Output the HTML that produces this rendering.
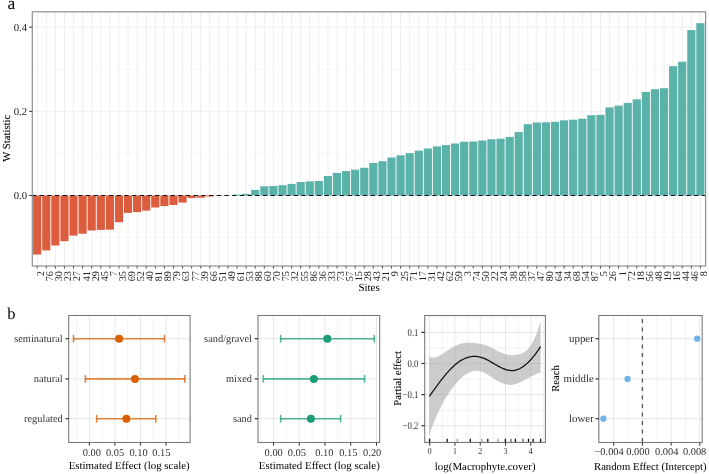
<!DOCTYPE html>
<html><head><meta charset="utf-8"><title>Figure</title>
<style>html,body{margin:0;padding:0;background:#fff;overflow:hidden}body{width:709px;height:474px;position:relative;font-family:"Liberation Serif",serif}</style></head>
<body>
<svg width="709" height="474" viewBox="0 0 709 474" style="position:absolute;left:0;top:0;font-family:'Liberation Serif',serif;will-change:transform;opacity:0.999;text-rendering:geometricPrecision">
<rect width="709" height="474" fill="#fff"/>
<text x="7.6" y="8.7" font-size="17.5" fill="#000">a</text>
<line x1="32.3" x2="705.6" y1="195.50" y2="195.50" stroke="#eeeeee" stroke-width="1.0"/>
<line x1="32.3" x2="705.6" y1="111.33" y2="111.33" stroke="#eeeeee" stroke-width="1.0"/>
<line x1="32.3" x2="705.6" y1="27.15" y2="27.15" stroke="#eeeeee" stroke-width="1.0"/>
<line x1="32.3" x2="705.6" y1="153.41" y2="153.41" stroke="#eeeeee" stroke-width="0.5"/>
<line x1="32.3" x2="705.6" y1="69.24" y2="69.24" stroke="#eeeeee" stroke-width="0.5"/>
<line x1="32.3" x2="705.6" y1="237.59" y2="237.59" stroke="#eeeeee" stroke-width="0.5"/>
<line x1="37.20" x2="37.20" y1="11.8" y2="266.0" stroke="#eeeeee" stroke-width="1"/>
<line x1="46.28" x2="46.28" y1="11.8" y2="266.0" stroke="#eeeeee" stroke-width="1"/>
<line x1="55.37" x2="55.37" y1="11.8" y2="266.0" stroke="#eeeeee" stroke-width="1"/>
<line x1="64.45" x2="64.45" y1="11.8" y2="266.0" stroke="#eeeeee" stroke-width="1"/>
<line x1="73.54" x2="73.54" y1="11.8" y2="266.0" stroke="#eeeeee" stroke-width="1"/>
<line x1="82.62" x2="82.62" y1="11.8" y2="266.0" stroke="#eeeeee" stroke-width="1"/>
<line x1="91.71" x2="91.71" y1="11.8" y2="266.0" stroke="#eeeeee" stroke-width="1"/>
<line x1="100.79" x2="100.79" y1="11.8" y2="266.0" stroke="#eeeeee" stroke-width="1"/>
<line x1="109.88" x2="109.88" y1="11.8" y2="266.0" stroke="#eeeeee" stroke-width="1"/>
<line x1="118.96" x2="118.96" y1="11.8" y2="266.0" stroke="#eeeeee" stroke-width="1"/>
<line x1="128.05" x2="128.05" y1="11.8" y2="266.0" stroke="#eeeeee" stroke-width="1"/>
<line x1="137.13" x2="137.13" y1="11.8" y2="266.0" stroke="#eeeeee" stroke-width="1"/>
<line x1="146.22" x2="146.22" y1="11.8" y2="266.0" stroke="#eeeeee" stroke-width="1"/>
<line x1="155.30" x2="155.30" y1="11.8" y2="266.0" stroke="#eeeeee" stroke-width="1"/>
<line x1="164.39" x2="164.39" y1="11.8" y2="266.0" stroke="#eeeeee" stroke-width="1"/>
<line x1="173.47" x2="173.47" y1="11.8" y2="266.0" stroke="#eeeeee" stroke-width="1"/>
<line x1="182.56" x2="182.56" y1="11.8" y2="266.0" stroke="#eeeeee" stroke-width="1"/>
<line x1="191.64" x2="191.64" y1="11.8" y2="266.0" stroke="#eeeeee" stroke-width="1"/>
<line x1="200.73" x2="200.73" y1="11.8" y2="266.0" stroke="#eeeeee" stroke-width="1"/>
<line x1="209.81" x2="209.81" y1="11.8" y2="266.0" stroke="#eeeeee" stroke-width="1"/>
<line x1="218.90" x2="218.90" y1="11.8" y2="266.0" stroke="#eeeeee" stroke-width="1"/>
<line x1="227.98" x2="227.98" y1="11.8" y2="266.0" stroke="#eeeeee" stroke-width="1"/>
<line x1="237.07" x2="237.07" y1="11.8" y2="266.0" stroke="#eeeeee" stroke-width="1"/>
<line x1="246.15" x2="246.15" y1="11.8" y2="266.0" stroke="#eeeeee" stroke-width="1"/>
<line x1="255.24" x2="255.24" y1="11.8" y2="266.0" stroke="#eeeeee" stroke-width="1"/>
<line x1="264.32" x2="264.32" y1="11.8" y2="266.0" stroke="#eeeeee" stroke-width="1"/>
<line x1="273.41" x2="273.41" y1="11.8" y2="266.0" stroke="#eeeeee" stroke-width="1"/>
<line x1="282.49" x2="282.49" y1="11.8" y2="266.0" stroke="#eeeeee" stroke-width="1"/>
<line x1="291.58" x2="291.58" y1="11.8" y2="266.0" stroke="#eeeeee" stroke-width="1"/>
<line x1="300.66" x2="300.66" y1="11.8" y2="266.0" stroke="#eeeeee" stroke-width="1"/>
<line x1="309.75" x2="309.75" y1="11.8" y2="266.0" stroke="#eeeeee" stroke-width="1"/>
<line x1="318.83" x2="318.83" y1="11.8" y2="266.0" stroke="#eeeeee" stroke-width="1"/>
<line x1="327.92" x2="327.92" y1="11.8" y2="266.0" stroke="#eeeeee" stroke-width="1"/>
<line x1="337.00" x2="337.00" y1="11.8" y2="266.0" stroke="#eeeeee" stroke-width="1"/>
<line x1="346.09" x2="346.09" y1="11.8" y2="266.0" stroke="#eeeeee" stroke-width="1"/>
<line x1="355.17" x2="355.17" y1="11.8" y2="266.0" stroke="#eeeeee" stroke-width="1"/>
<line x1="364.26" x2="364.26" y1="11.8" y2="266.0" stroke="#eeeeee" stroke-width="1"/>
<line x1="373.34" x2="373.34" y1="11.8" y2="266.0" stroke="#eeeeee" stroke-width="1"/>
<line x1="382.43" x2="382.43" y1="11.8" y2="266.0" stroke="#eeeeee" stroke-width="1"/>
<line x1="391.51" x2="391.51" y1="11.8" y2="266.0" stroke="#eeeeee" stroke-width="1"/>
<line x1="400.60" x2="400.60" y1="11.8" y2="266.0" stroke="#eeeeee" stroke-width="1"/>
<line x1="409.68" x2="409.68" y1="11.8" y2="266.0" stroke="#eeeeee" stroke-width="1"/>
<line x1="418.77" x2="418.77" y1="11.8" y2="266.0" stroke="#eeeeee" stroke-width="1"/>
<line x1="427.85" x2="427.85" y1="11.8" y2="266.0" stroke="#eeeeee" stroke-width="1"/>
<line x1="436.94" x2="436.94" y1="11.8" y2="266.0" stroke="#eeeeee" stroke-width="1"/>
<line x1="446.02" x2="446.02" y1="11.8" y2="266.0" stroke="#eeeeee" stroke-width="1"/>
<line x1="455.11" x2="455.11" y1="11.8" y2="266.0" stroke="#eeeeee" stroke-width="1"/>
<line x1="464.19" x2="464.19" y1="11.8" y2="266.0" stroke="#eeeeee" stroke-width="1"/>
<line x1="473.28" x2="473.28" y1="11.8" y2="266.0" stroke="#eeeeee" stroke-width="1"/>
<line x1="482.36" x2="482.36" y1="11.8" y2="266.0" stroke="#eeeeee" stroke-width="1"/>
<line x1="491.45" x2="491.45" y1="11.8" y2="266.0" stroke="#eeeeee" stroke-width="1"/>
<line x1="500.53" x2="500.53" y1="11.8" y2="266.0" stroke="#eeeeee" stroke-width="1"/>
<line x1="509.62" x2="509.62" y1="11.8" y2="266.0" stroke="#eeeeee" stroke-width="1"/>
<line x1="518.70" x2="518.70" y1="11.8" y2="266.0" stroke="#eeeeee" stroke-width="1"/>
<line x1="527.79" x2="527.79" y1="11.8" y2="266.0" stroke="#eeeeee" stroke-width="1"/>
<line x1="536.87" x2="536.87" y1="11.8" y2="266.0" stroke="#eeeeee" stroke-width="1"/>
<line x1="545.96" x2="545.96" y1="11.8" y2="266.0" stroke="#eeeeee" stroke-width="1"/>
<line x1="555.04" x2="555.04" y1="11.8" y2="266.0" stroke="#eeeeee" stroke-width="1"/>
<line x1="564.13" x2="564.13" y1="11.8" y2="266.0" stroke="#eeeeee" stroke-width="1"/>
<line x1="573.21" x2="573.21" y1="11.8" y2="266.0" stroke="#eeeeee" stroke-width="1"/>
<line x1="582.30" x2="582.30" y1="11.8" y2="266.0" stroke="#eeeeee" stroke-width="1"/>
<line x1="591.38" x2="591.38" y1="11.8" y2="266.0" stroke="#eeeeee" stroke-width="1"/>
<line x1="600.47" x2="600.47" y1="11.8" y2="266.0" stroke="#eeeeee" stroke-width="1"/>
<line x1="609.55" x2="609.55" y1="11.8" y2="266.0" stroke="#eeeeee" stroke-width="1"/>
<line x1="618.64" x2="618.64" y1="11.8" y2="266.0" stroke="#eeeeee" stroke-width="1"/>
<line x1="627.72" x2="627.72" y1="11.8" y2="266.0" stroke="#eeeeee" stroke-width="1"/>
<line x1="636.81" x2="636.81" y1="11.8" y2="266.0" stroke="#eeeeee" stroke-width="1"/>
<line x1="645.89" x2="645.89" y1="11.8" y2="266.0" stroke="#eeeeee" stroke-width="1"/>
<line x1="654.98" x2="654.98" y1="11.8" y2="266.0" stroke="#eeeeee" stroke-width="1"/>
<line x1="664.06" x2="664.06" y1="11.8" y2="266.0" stroke="#eeeeee" stroke-width="1"/>
<line x1="673.15" x2="673.15" y1="11.8" y2="266.0" stroke="#eeeeee" stroke-width="1"/>
<line x1="682.23" x2="682.23" y1="11.8" y2="266.0" stroke="#eeeeee" stroke-width="1"/>
<line x1="691.32" x2="691.32" y1="11.8" y2="266.0" stroke="#eeeeee" stroke-width="1"/>
<line x1="700.40" x2="700.40" y1="11.8" y2="266.0" stroke="#eeeeee" stroke-width="1"/>
<rect x="33.11" y="195.5" width="8.18" height="59.00" fill="#dc5c3e"/>
<rect x="42.20" y="195.5" width="8.18" height="54.90" fill="#dc5c3e"/>
<rect x="51.28" y="195.5" width="8.18" height="50.00" fill="#dc5c3e"/>
<rect x="60.37" y="195.5" width="8.18" height="45.70" fill="#dc5c3e"/>
<rect x="69.45" y="195.5" width="8.18" height="40.10" fill="#dc5c3e"/>
<rect x="78.54" y="195.5" width="8.18" height="38.20" fill="#dc5c3e"/>
<rect x="87.62" y="195.5" width="8.18" height="35.00" fill="#dc5c3e"/>
<rect x="96.71" y="195.5" width="8.18" height="34.40" fill="#dc5c3e"/>
<rect x="105.79" y="195.5" width="8.18" height="34.10" fill="#dc5c3e"/>
<rect x="114.88" y="195.5" width="8.18" height="26.70" fill="#dc5c3e"/>
<rect x="123.96" y="195.5" width="8.18" height="17.40" fill="#dc5c3e"/>
<rect x="133.05" y="195.5" width="8.18" height="16.60" fill="#dc5c3e"/>
<rect x="142.13" y="195.5" width="8.18" height="15.10" fill="#dc5c3e"/>
<rect x="151.22" y="195.5" width="8.18" height="12.00" fill="#dc5c3e"/>
<rect x="160.30" y="195.5" width="8.18" height="10.60" fill="#dc5c3e"/>
<rect x="169.39" y="195.5" width="8.18" height="9.50" fill="#dc5c3e"/>
<rect x="178.47" y="195.5" width="8.18" height="7.10" fill="#dc5c3e"/>
<rect x="187.56" y="195.5" width="8.18" height="2.60" fill="#dc5c3e"/>
<rect x="196.64" y="195.5" width="8.18" height="2.20" fill="#dc5c3e"/>
<rect x="205.73" y="195.5" width="8.18" height="1.00" fill="#dc5c3e"/>
<rect x="214.81" y="195.5" width="8.18" height="0.20" fill="#dc5c3e"/>
<rect x="223.90" y="195.4" width="8.18" height="0.10" fill="#5ab2a8"/>
<rect x="232.98" y="194.6" width="8.18" height="0.90" fill="#5ab2a8"/>
<rect x="242.07" y="193.9" width="8.18" height="1.60" fill="#5ab2a8"/>
<rect x="251.15" y="189.9" width="8.18" height="5.60" fill="#5ab2a8"/>
<rect x="260.24" y="186.3" width="8.18" height="9.20" fill="#5ab2a8"/>
<rect x="269.32" y="186.0" width="8.18" height="9.50" fill="#5ab2a8"/>
<rect x="278.40" y="185.2" width="8.18" height="10.30" fill="#5ab2a8"/>
<rect x="287.49" y="183.9" width="8.18" height="11.60" fill="#5ab2a8"/>
<rect x="296.57" y="182.0" width="8.18" height="13.50" fill="#5ab2a8"/>
<rect x="305.66" y="181.4" width="8.18" height="14.10" fill="#5ab2a8"/>
<rect x="314.74" y="181.0" width="8.18" height="14.50" fill="#5ab2a8"/>
<rect x="323.83" y="176.0" width="8.18" height="19.50" fill="#5ab2a8"/>
<rect x="332.91" y="172.9" width="8.18" height="22.60" fill="#5ab2a8"/>
<rect x="342.00" y="171.1" width="8.18" height="24.40" fill="#5ab2a8"/>
<rect x="351.08" y="169.65" width="8.18" height="25.85" fill="#5ab2a8"/>
<rect x="360.17" y="167.8" width="8.18" height="27.70" fill="#5ab2a8"/>
<rect x="369.25" y="162.9" width="8.18" height="32.60" fill="#5ab2a8"/>
<rect x="378.34" y="161.2" width="8.18" height="34.30" fill="#5ab2a8"/>
<rect x="387.42" y="157.5" width="8.18" height="38.00" fill="#5ab2a8"/>
<rect x="396.51" y="155.3" width="8.18" height="40.20" fill="#5ab2a8"/>
<rect x="405.59" y="153.1" width="8.18" height="42.40" fill="#5ab2a8"/>
<rect x="414.68" y="150.6" width="8.18" height="44.90" fill="#5ab2a8"/>
<rect x="423.76" y="148.5" width="8.18" height="47.00" fill="#5ab2a8"/>
<rect x="432.85" y="146.4" width="8.18" height="49.10" fill="#5ab2a8"/>
<rect x="441.93" y="145.1" width="8.18" height="50.40" fill="#5ab2a8"/>
<rect x="451.02" y="143.5" width="8.18" height="52.00" fill="#5ab2a8"/>
<rect x="460.10" y="141.8" width="8.18" height="53.70" fill="#5ab2a8"/>
<rect x="469.19" y="141.5" width="8.18" height="54.00" fill="#5ab2a8"/>
<rect x="478.27" y="140.5" width="8.18" height="55.00" fill="#5ab2a8"/>
<rect x="487.36" y="139.2" width="8.18" height="56.30" fill="#5ab2a8"/>
<rect x="496.44" y="138.7" width="8.18" height="56.80" fill="#5ab2a8"/>
<rect x="505.53" y="136.9" width="8.18" height="58.60" fill="#5ab2a8"/>
<rect x="514.61" y="132.1" width="8.18" height="63.40" fill="#5ab2a8"/>
<rect x="523.70" y="124.2" width="8.18" height="71.30" fill="#5ab2a8"/>
<rect x="532.78" y="122.5" width="8.18" height="73.00" fill="#5ab2a8"/>
<rect x="541.87" y="122.3" width="8.18" height="73.20" fill="#5ab2a8"/>
<rect x="550.95" y="121.8" width="8.18" height="73.70" fill="#5ab2a8"/>
<rect x="560.04" y="120.3" width="8.18" height="75.20" fill="#5ab2a8"/>
<rect x="569.12" y="119.7" width="8.18" height="75.80" fill="#5ab2a8"/>
<rect x="578.21" y="118.7" width="8.18" height="76.80" fill="#5ab2a8"/>
<rect x="587.29" y="115.2" width="8.18" height="80.30" fill="#5ab2a8"/>
<rect x="596.38" y="114.9" width="8.18" height="80.60" fill="#5ab2a8"/>
<rect x="605.46" y="107.4" width="8.18" height="88.10" fill="#5ab2a8"/>
<rect x="614.55" y="105.6" width="8.18" height="89.90" fill="#5ab2a8"/>
<rect x="623.63" y="102.9" width="8.18" height="92.60" fill="#5ab2a8"/>
<rect x="632.72" y="99.3" width="8.18" height="96.20" fill="#5ab2a8"/>
<rect x="641.80" y="91.9" width="8.18" height="103.60" fill="#5ab2a8"/>
<rect x="650.89" y="89.2" width="8.18" height="106.30" fill="#5ab2a8"/>
<rect x="659.97" y="88.2" width="8.18" height="107.30" fill="#5ab2a8"/>
<rect x="669.06" y="66.2" width="8.18" height="129.30" fill="#5ab2a8"/>
<rect x="678.14" y="61.7" width="8.18" height="133.80" fill="#5ab2a8"/>
<rect x="687.23" y="30.1" width="8.18" height="165.40" fill="#5ab2a8"/>
<rect x="696.31" y="23.2" width="8.18" height="172.30" fill="#5ab2a8"/>
<line x1="32.3" x2="705.6" y1="195.5" y2="195.5" stroke="#111" stroke-width="1.2" stroke-dasharray="4.3 3.4" stroke-dashoffset="0.4"/>
<rect x="32.3" y="11.8" width="673.3000000000001" height="254.2" fill="none" stroke="#8f8f8f" stroke-width="1.2"/>
<line x1="29.099999999999998" x2="32.3" y1="195.50" y2="195.50" stroke="#333" stroke-width="1"/>
<text x="26.999999999999996" y="199.30" font-size="10.7" text-anchor="end" fill="#222">0.0</text>
<line x1="29.099999999999998" x2="32.3" y1="111.33" y2="111.33" stroke="#333" stroke-width="1"/>
<text x="26.999999999999996" y="115.12" font-size="10.7" text-anchor="end" fill="#222">0.2</text>
<line x1="29.099999999999998" x2="32.3" y1="27.15" y2="27.15" stroke="#333" stroke-width="1"/>
<text x="26.999999999999996" y="30.95" font-size="10.7" text-anchor="end" fill="#222">0.4</text>
<line x1="37.20" x2="37.20" y1="266.0" y2="268.6" stroke="#555" stroke-width="1"/>
<text transform="translate(44.10,271.0) rotate(-90)" font-size="10.3" text-anchor="end" fill="#222">2</text>
<line x1="46.28" x2="46.28" y1="266.0" y2="268.6" stroke="#555" stroke-width="1"/>
<text transform="translate(53.18,271.0) rotate(-90)" font-size="10.3" text-anchor="end" fill="#222">76</text>
<line x1="55.37" x2="55.37" y1="266.0" y2="268.6" stroke="#555" stroke-width="1"/>
<text transform="translate(62.27,271.0) rotate(-90)" font-size="10.3" text-anchor="end" fill="#222">30</text>
<line x1="64.45" x2="64.45" y1="266.0" y2="268.6" stroke="#555" stroke-width="1"/>
<text transform="translate(71.35,271.0) rotate(-90)" font-size="10.3" text-anchor="end" fill="#222">23</text>
<line x1="73.54" x2="73.54" y1="266.0" y2="268.6" stroke="#555" stroke-width="1"/>
<text transform="translate(80.44,271.0) rotate(-90)" font-size="10.3" text-anchor="end" fill="#222">27</text>
<line x1="82.62" x2="82.62" y1="266.0" y2="268.6" stroke="#555" stroke-width="1"/>
<text transform="translate(89.52,271.0) rotate(-90)" font-size="10.3" text-anchor="end" fill="#222">41</text>
<line x1="91.71" x2="91.71" y1="266.0" y2="268.6" stroke="#555" stroke-width="1"/>
<text transform="translate(98.61,271.0) rotate(-90)" font-size="10.3" text-anchor="end" fill="#222">29</text>
<line x1="100.79" x2="100.79" y1="266.0" y2="268.6" stroke="#555" stroke-width="1"/>
<text transform="translate(107.69,271.0) rotate(-90)" font-size="10.3" text-anchor="end" fill="#222">45</text>
<line x1="109.88" x2="109.88" y1="266.0" y2="268.6" stroke="#555" stroke-width="1"/>
<text transform="translate(116.78,271.0) rotate(-90)" font-size="10.3" text-anchor="end" fill="#222">7</text>
<line x1="118.96" x2="118.96" y1="266.0" y2="268.6" stroke="#555" stroke-width="1"/>
<text transform="translate(125.86,271.0) rotate(-90)" font-size="10.3" text-anchor="end" fill="#222">35</text>
<line x1="128.05" x2="128.05" y1="266.0" y2="268.6" stroke="#555" stroke-width="1"/>
<text transform="translate(134.95,271.0) rotate(-90)" font-size="10.3" text-anchor="end" fill="#222">69</text>
<line x1="137.13" x2="137.13" y1="266.0" y2="268.6" stroke="#555" stroke-width="1"/>
<text transform="translate(144.03,271.0) rotate(-90)" font-size="10.3" text-anchor="end" fill="#222">52</text>
<line x1="146.22" x2="146.22" y1="266.0" y2="268.6" stroke="#555" stroke-width="1"/>
<text transform="translate(153.12,271.0) rotate(-90)" font-size="10.3" text-anchor="end" fill="#222">40</text>
<line x1="155.30" x2="155.30" y1="266.0" y2="268.6" stroke="#555" stroke-width="1"/>
<text transform="translate(162.20,271.0) rotate(-90)" font-size="10.3" text-anchor="end" fill="#222">81</text>
<line x1="164.39" x2="164.39" y1="266.0" y2="268.6" stroke="#555" stroke-width="1"/>
<text transform="translate(171.29,271.0) rotate(-90)" font-size="10.3" text-anchor="end" fill="#222">89</text>
<line x1="173.47" x2="173.47" y1="266.0" y2="268.6" stroke="#555" stroke-width="1"/>
<text transform="translate(180.37,271.0) rotate(-90)" font-size="10.3" text-anchor="end" fill="#222">79</text>
<line x1="182.56" x2="182.56" y1="266.0" y2="268.6" stroke="#555" stroke-width="1"/>
<text transform="translate(189.46,271.0) rotate(-90)" font-size="10.3" text-anchor="end" fill="#222">63</text>
<line x1="191.64" x2="191.64" y1="266.0" y2="268.6" stroke="#555" stroke-width="1"/>
<text transform="translate(198.54,271.0) rotate(-90)" font-size="10.3" text-anchor="end" fill="#222">77</text>
<line x1="200.73" x2="200.73" y1="266.0" y2="268.6" stroke="#555" stroke-width="1"/>
<text transform="translate(207.63,271.0) rotate(-90)" font-size="10.3" text-anchor="end" fill="#222">39</text>
<line x1="209.81" x2="209.81" y1="266.0" y2="268.6" stroke="#555" stroke-width="1"/>
<text transform="translate(216.71,271.0) rotate(-90)" font-size="10.3" text-anchor="end" fill="#222">66</text>
<line x1="218.90" x2="218.90" y1="266.0" y2="268.6" stroke="#555" stroke-width="1"/>
<text transform="translate(225.80,271.0) rotate(-90)" font-size="10.3" text-anchor="end" fill="#222">51</text>
<line x1="227.98" x2="227.98" y1="266.0" y2="268.6" stroke="#555" stroke-width="1"/>
<text transform="translate(234.88,271.0) rotate(-90)" font-size="10.3" text-anchor="end" fill="#222">49</text>
<line x1="237.07" x2="237.07" y1="266.0" y2="268.6" stroke="#555" stroke-width="1"/>
<text transform="translate(243.97,271.0) rotate(-90)" font-size="10.3" text-anchor="end" fill="#222">61</text>
<line x1="246.15" x2="246.15" y1="266.0" y2="268.6" stroke="#555" stroke-width="1"/>
<text transform="translate(253.05,271.0) rotate(-90)" font-size="10.3" text-anchor="end" fill="#222">53</text>
<line x1="255.24" x2="255.24" y1="266.0" y2="268.6" stroke="#555" stroke-width="1"/>
<text transform="translate(262.14,271.0) rotate(-90)" font-size="10.3" text-anchor="end" fill="#222">88</text>
<line x1="264.32" x2="264.32" y1="266.0" y2="268.6" stroke="#555" stroke-width="1"/>
<text transform="translate(271.22,271.0) rotate(-90)" font-size="10.3" text-anchor="end" fill="#222">60</text>
<line x1="273.41" x2="273.41" y1="266.0" y2="268.6" stroke="#555" stroke-width="1"/>
<text transform="translate(280.31,271.0) rotate(-90)" font-size="10.3" text-anchor="end" fill="#222">70</text>
<line x1="282.49" x2="282.49" y1="266.0" y2="268.6" stroke="#555" stroke-width="1"/>
<text transform="translate(289.39,271.0) rotate(-90)" font-size="10.3" text-anchor="end" fill="#222">75</text>
<line x1="291.58" x2="291.58" y1="266.0" y2="268.6" stroke="#555" stroke-width="1"/>
<text transform="translate(298.48,271.0) rotate(-90)" font-size="10.3" text-anchor="end" fill="#222">32</text>
<line x1="300.66" x2="300.66" y1="266.0" y2="268.6" stroke="#555" stroke-width="1"/>
<text transform="translate(307.56,271.0) rotate(-90)" font-size="10.3" text-anchor="end" fill="#222">55</text>
<line x1="309.75" x2="309.75" y1="266.0" y2="268.6" stroke="#555" stroke-width="1"/>
<text transform="translate(316.65,271.0) rotate(-90)" font-size="10.3" text-anchor="end" fill="#222">86</text>
<line x1="318.83" x2="318.83" y1="266.0" y2="268.6" stroke="#555" stroke-width="1"/>
<text transform="translate(325.73,271.0) rotate(-90)" font-size="10.3" text-anchor="end" fill="#222">36</text>
<line x1="327.92" x2="327.92" y1="266.0" y2="268.6" stroke="#555" stroke-width="1"/>
<text transform="translate(334.82,271.0) rotate(-90)" font-size="10.3" text-anchor="end" fill="#222">33</text>
<line x1="337.00" x2="337.00" y1="266.0" y2="268.6" stroke="#555" stroke-width="1"/>
<text transform="translate(343.90,271.0) rotate(-90)" font-size="10.3" text-anchor="end" fill="#222">73</text>
<line x1="346.09" x2="346.09" y1="266.0" y2="268.6" stroke="#555" stroke-width="1"/>
<text transform="translate(352.99,271.0) rotate(-90)" font-size="10.3" text-anchor="end" fill="#222">57</text>
<line x1="355.17" x2="355.17" y1="266.0" y2="268.6" stroke="#555" stroke-width="1"/>
<text transform="translate(362.07,271.0) rotate(-90)" font-size="10.3" text-anchor="end" fill="#222">15</text>
<line x1="364.26" x2="364.26" y1="266.0" y2="268.6" stroke="#555" stroke-width="1"/>
<text transform="translate(371.16,271.0) rotate(-90)" font-size="10.3" text-anchor="end" fill="#222">28</text>
<line x1="373.34" x2="373.34" y1="266.0" y2="268.6" stroke="#555" stroke-width="1"/>
<text transform="translate(380.24,271.0) rotate(-90)" font-size="10.3" text-anchor="end" fill="#222">43</text>
<line x1="382.43" x2="382.43" y1="266.0" y2="268.6" stroke="#555" stroke-width="1"/>
<text transform="translate(389.33,271.0) rotate(-90)" font-size="10.3" text-anchor="end" fill="#222">21</text>
<line x1="391.51" x2="391.51" y1="266.0" y2="268.6" stroke="#555" stroke-width="1"/>
<text transform="translate(398.41,271.0) rotate(-90)" font-size="10.3" text-anchor="end" fill="#222">9</text>
<line x1="400.60" x2="400.60" y1="266.0" y2="268.6" stroke="#555" stroke-width="1"/>
<text transform="translate(407.50,271.0) rotate(-90)" font-size="10.3" text-anchor="end" fill="#222">25</text>
<line x1="409.68" x2="409.68" y1="266.0" y2="268.6" stroke="#555" stroke-width="1"/>
<text transform="translate(416.58,271.0) rotate(-90)" font-size="10.3" text-anchor="end" fill="#222">71</text>
<line x1="418.77" x2="418.77" y1="266.0" y2="268.6" stroke="#555" stroke-width="1"/>
<text transform="translate(425.67,271.0) rotate(-90)" font-size="10.3" text-anchor="end" fill="#222">17</text>
<line x1="427.85" x2="427.85" y1="266.0" y2="268.6" stroke="#555" stroke-width="1"/>
<text transform="translate(434.75,271.0) rotate(-90)" font-size="10.3" text-anchor="end" fill="#222">31</text>
<line x1="436.94" x2="436.94" y1="266.0" y2="268.6" stroke="#555" stroke-width="1"/>
<text transform="translate(443.84,271.0) rotate(-90)" font-size="10.3" text-anchor="end" fill="#222">42</text>
<line x1="446.02" x2="446.02" y1="266.0" y2="268.6" stroke="#555" stroke-width="1"/>
<text transform="translate(452.92,271.0) rotate(-90)" font-size="10.3" text-anchor="end" fill="#222">62</text>
<line x1="455.11" x2="455.11" y1="266.0" y2="268.6" stroke="#555" stroke-width="1"/>
<text transform="translate(462.01,271.0) rotate(-90)" font-size="10.3" text-anchor="end" fill="#222">59</text>
<line x1="464.19" x2="464.19" y1="266.0" y2="268.6" stroke="#555" stroke-width="1"/>
<text transform="translate(471.09,271.0) rotate(-90)" font-size="10.3" text-anchor="end" fill="#222">3</text>
<line x1="473.28" x2="473.28" y1="266.0" y2="268.6" stroke="#555" stroke-width="1"/>
<text transform="translate(480.18,271.0) rotate(-90)" font-size="10.3" text-anchor="end" fill="#222">74</text>
<line x1="482.36" x2="482.36" y1="266.0" y2="268.6" stroke="#555" stroke-width="1"/>
<text transform="translate(489.26,271.0) rotate(-90)" font-size="10.3" text-anchor="end" fill="#222">50</text>
<line x1="491.45" x2="491.45" y1="266.0" y2="268.6" stroke="#555" stroke-width="1"/>
<text transform="translate(498.35,271.0) rotate(-90)" font-size="10.3" text-anchor="end" fill="#222">22</text>
<line x1="500.53" x2="500.53" y1="266.0" y2="268.6" stroke="#555" stroke-width="1"/>
<text transform="translate(507.43,271.0) rotate(-90)" font-size="10.3" text-anchor="end" fill="#222">24</text>
<line x1="509.62" x2="509.62" y1="266.0" y2="268.6" stroke="#555" stroke-width="1"/>
<text transform="translate(516.52,271.0) rotate(-90)" font-size="10.3" text-anchor="end" fill="#222">38</text>
<line x1="518.70" x2="518.70" y1="266.0" y2="268.6" stroke="#555" stroke-width="1"/>
<text transform="translate(525.60,271.0) rotate(-90)" font-size="10.3" text-anchor="end" fill="#222">58</text>
<line x1="527.79" x2="527.79" y1="266.0" y2="268.6" stroke="#555" stroke-width="1"/>
<text transform="translate(534.69,271.0) rotate(-90)" font-size="10.3" text-anchor="end" fill="#222">37</text>
<line x1="536.87" x2="536.87" y1="266.0" y2="268.6" stroke="#555" stroke-width="1"/>
<text transform="translate(543.77,271.0) rotate(-90)" font-size="10.3" text-anchor="end" fill="#222">47</text>
<line x1="545.96" x2="545.96" y1="266.0" y2="268.6" stroke="#555" stroke-width="1"/>
<text transform="translate(552.86,271.0) rotate(-90)" font-size="10.3" text-anchor="end" fill="#222">80</text>
<line x1="555.04" x2="555.04" y1="266.0" y2="268.6" stroke="#555" stroke-width="1"/>
<text transform="translate(561.94,271.0) rotate(-90)" font-size="10.3" text-anchor="end" fill="#222">64</text>
<line x1="564.13" x2="564.13" y1="266.0" y2="268.6" stroke="#555" stroke-width="1"/>
<text transform="translate(571.03,271.0) rotate(-90)" font-size="10.3" text-anchor="end" fill="#222">34</text>
<line x1="573.21" x2="573.21" y1="266.0" y2="268.6" stroke="#555" stroke-width="1"/>
<text transform="translate(580.11,271.0) rotate(-90)" font-size="10.3" text-anchor="end" fill="#222">68</text>
<line x1="582.30" x2="582.30" y1="266.0" y2="268.6" stroke="#555" stroke-width="1"/>
<text transform="translate(589.20,271.0) rotate(-90)" font-size="10.3" text-anchor="end" fill="#222">54</text>
<line x1="591.38" x2="591.38" y1="266.0" y2="268.6" stroke="#555" stroke-width="1"/>
<text transform="translate(598.28,271.0) rotate(-90)" font-size="10.3" text-anchor="end" fill="#222">87</text>
<line x1="600.47" x2="600.47" y1="266.0" y2="268.6" stroke="#555" stroke-width="1"/>
<text transform="translate(607.37,271.0) rotate(-90)" font-size="10.3" text-anchor="end" fill="#222">5</text>
<line x1="609.55" x2="609.55" y1="266.0" y2="268.6" stroke="#555" stroke-width="1"/>
<text transform="translate(616.45,271.0) rotate(-90)" font-size="10.3" text-anchor="end" fill="#222">26</text>
<line x1="618.64" x2="618.64" y1="266.0" y2="268.6" stroke="#555" stroke-width="1"/>
<text transform="translate(625.54,271.0) rotate(-90)" font-size="10.3" text-anchor="end" fill="#222">1</text>
<line x1="627.72" x2="627.72" y1="266.0" y2="268.6" stroke="#555" stroke-width="1"/>
<text transform="translate(634.62,271.0) rotate(-90)" font-size="10.3" text-anchor="end" fill="#222">72</text>
<line x1="636.81" x2="636.81" y1="266.0" y2="268.6" stroke="#555" stroke-width="1"/>
<text transform="translate(643.71,271.0) rotate(-90)" font-size="10.3" text-anchor="end" fill="#222">18</text>
<line x1="645.89" x2="645.89" y1="266.0" y2="268.6" stroke="#555" stroke-width="1"/>
<text transform="translate(652.79,271.0) rotate(-90)" font-size="10.3" text-anchor="end" fill="#222">56</text>
<line x1="654.98" x2="654.98" y1="266.0" y2="268.6" stroke="#555" stroke-width="1"/>
<text transform="translate(661.88,271.0) rotate(-90)" font-size="10.3" text-anchor="end" fill="#222">48</text>
<line x1="664.06" x2="664.06" y1="266.0" y2="268.6" stroke="#555" stroke-width="1"/>
<text transform="translate(670.96,271.0) rotate(-90)" font-size="10.3" text-anchor="end" fill="#222">19</text>
<line x1="673.15" x2="673.15" y1="266.0" y2="268.6" stroke="#555" stroke-width="1"/>
<text transform="translate(680.05,271.0) rotate(-90)" font-size="10.3" text-anchor="end" fill="#222">16</text>
<line x1="682.23" x2="682.23" y1="266.0" y2="268.6" stroke="#555" stroke-width="1"/>
<text transform="translate(689.13,271.0) rotate(-90)" font-size="10.3" text-anchor="end" fill="#222">44</text>
<line x1="691.32" x2="691.32" y1="266.0" y2="268.6" stroke="#555" stroke-width="1"/>
<text transform="translate(698.22,271.0) rotate(-90)" font-size="10.3" text-anchor="end" fill="#222">46</text>
<line x1="700.40" x2="700.40" y1="266.0" y2="268.6" stroke="#555" stroke-width="1"/>
<text transform="translate(707.30,271.0) rotate(-90)" font-size="10.3" text-anchor="end" fill="#222">8</text>
<text transform="translate(9.6,138.2) rotate(-90)" font-size="10.7" text-anchor="middle" fill="#000" stroke="#000" stroke-width="0.08">W Statistic</text>
<text x="369.1" y="290.8" font-size="11" text-anchor="middle" fill="#000">Sites</text>
<text x="7.3" y="319.0" font-size="16.5" fill="#000">b</text>
<line x1="68.7" x2="190.1" y1="338.70" y2="338.70" stroke="#e7e7e7" stroke-width="1.0"/>
<line x1="68.7" x2="190.1" y1="378.90" y2="378.90" stroke="#e7e7e7" stroke-width="1.0"/>
<line x1="68.7" x2="190.1" y1="418.70" y2="418.70" stroke="#e7e7e7" stroke-width="1.0"/>
<line x1="89.50" x2="89.50" y1="315.5" y2="442.5" stroke="#e7e7e7" stroke-width="1.0"/>
<line x1="115.00" x2="115.00" y1="315.5" y2="442.5" stroke="#e7e7e7" stroke-width="1.0"/>
<line x1="140.50" x2="140.50" y1="315.5" y2="442.5" stroke="#e7e7e7" stroke-width="1.0"/>
<line x1="166.00" x2="166.00" y1="315.5" y2="442.5" stroke="#e7e7e7" stroke-width="1.0"/>
<line x1="76.75" x2="76.75" y1="315.5" y2="442.5" stroke="#e7e7e7" stroke-width="0.5"/>
<line x1="102.25" x2="102.25" y1="315.5" y2="442.5" stroke="#e7e7e7" stroke-width="0.5"/>
<line x1="127.75" x2="127.75" y1="315.5" y2="442.5" stroke="#e7e7e7" stroke-width="0.5"/>
<line x1="153.25" x2="153.25" y1="315.5" y2="442.5" stroke="#e7e7e7" stroke-width="0.5"/>
<line x1="178.75" x2="178.75" y1="315.5" y2="442.5" stroke="#e7e7e7" stroke-width="0.5"/>
<line x1="73.50" x2="164.50" y1="338.7" y2="338.7" stroke="#d95f02" stroke-width="1.6" opacity="0.75"/>
<line x1="73.50" x2="73.50" y1="334.9" y2="342.5" stroke="#d95f02" stroke-width="1.6" opacity="0.75"/>
<line x1="164.50" x2="164.50" y1="334.9" y2="342.5" stroke="#d95f02" stroke-width="1.6" opacity="0.75"/>
<circle cx="119.10" cy="338.7" r="4.0" fill="#d95f02"/>
<line x1="85.40" x2="184.90" y1="378.9" y2="378.9" stroke="#d95f02" stroke-width="1.6" opacity="0.75"/>
<line x1="85.40" x2="85.40" y1="375.09999999999997" y2="382.7" stroke="#d95f02" stroke-width="1.6" opacity="0.75"/>
<line x1="184.90" x2="184.90" y1="375.09999999999997" y2="382.7" stroke="#d95f02" stroke-width="1.6" opacity="0.75"/>
<circle cx="134.95" cy="378.9" r="4.0" fill="#d95f02"/>
<line x1="96.70" x2="155.80" y1="418.7" y2="418.7" stroke="#d95f02" stroke-width="1.6" opacity="0.75"/>
<line x1="96.70" x2="96.70" y1="414.9" y2="422.5" stroke="#d95f02" stroke-width="1.6" opacity="0.75"/>
<line x1="155.80" x2="155.80" y1="414.9" y2="422.5" stroke="#d95f02" stroke-width="1.6" opacity="0.75"/>
<circle cx="126.40" cy="418.7" r="4.0" fill="#d95f02"/>
<rect x="68.7" y="315.5" width="121.40" height="127.00" fill="none" stroke="#777777" stroke-width="1.05"/>
<line x1="65.4" x2="68.7" y1="338.70" y2="338.70" stroke="#333" stroke-width="1.2"/>
<text transform="translate(62.70,342.00) scale(1.0,1)" font-size="10.4" text-anchor="end" fill="#333333">seminatural</text>
<line x1="65.4" x2="68.7" y1="378.90" y2="378.90" stroke="#333" stroke-width="1.2"/>
<text transform="translate(62.70,382.20) scale(1.0,1)" font-size="10.4" text-anchor="end" fill="#333333">natural</text>
<line x1="65.4" x2="68.7" y1="418.70" y2="418.70" stroke="#333" stroke-width="1.2"/>
<text transform="translate(62.70,422.00) scale(1.0,1)" font-size="10.4" text-anchor="end" fill="#333333">regulated</text>
<line x1="89.40" x2="89.40" y1="442.5" y2="445.7" stroke="#333" stroke-width="1"/>
<line x1="114.90" x2="114.90" y1="442.5" y2="445.7" stroke="#333" stroke-width="1"/>
<line x1="140.40" x2="140.40" y1="442.5" y2="445.7" stroke="#333" stroke-width="1"/>
<line x1="166.00" x2="166.00" y1="442.5" y2="445.7" stroke="#333" stroke-width="1"/>
<text transform="translate(91.90,455.7) scale(1.0,1)" font-size="10.4" text-anchor="middle" fill="#333333">0.00</text>
<text transform="translate(115.00,455.7) scale(1.0,1)" font-size="10.4" text-anchor="middle" fill="#333333">0.05</text>
<text transform="translate(138.50,455.7) scale(1.0,1)" font-size="10.4" text-anchor="middle" fill="#333333">0.10</text>
<text transform="translate(161.40,455.7) scale(1.0,1)" font-size="10.4" text-anchor="middle" fill="#333333">0.15</text>
<text x="129.2" y="468.6" font-size="10.9" text-anchor="middle" fill="#000">Estimated Effect (log scale)</text>
<line x1="258.0" x2="379.7" y1="338.70" y2="338.70" stroke="#e7e7e7" stroke-width="1.0"/>
<line x1="258.0" x2="379.7" y1="378.90" y2="378.90" stroke="#e7e7e7" stroke-width="1.0"/>
<line x1="258.0" x2="379.7" y1="418.70" y2="418.70" stroke="#e7e7e7" stroke-width="1.0"/>
<line x1="273.50" x2="273.50" y1="315.5" y2="442.5" stroke="#e7e7e7" stroke-width="1.0"/>
<line x1="299.25" x2="299.25" y1="315.5" y2="442.5" stroke="#e7e7e7" stroke-width="1.0"/>
<line x1="325.00" x2="325.00" y1="315.5" y2="442.5" stroke="#e7e7e7" stroke-width="1.0"/>
<line x1="350.75" x2="350.75" y1="315.5" y2="442.5" stroke="#e7e7e7" stroke-width="1.0"/>
<line x1="376.50" x2="376.50" y1="315.5" y2="442.5" stroke="#e7e7e7" stroke-width="1.0"/>
<line x1="260.62" x2="260.62" y1="315.5" y2="442.5" stroke="#e7e7e7" stroke-width="0.5"/>
<line x1="286.38" x2="286.38" y1="315.5" y2="442.5" stroke="#e7e7e7" stroke-width="0.5"/>
<line x1="312.12" x2="312.12" y1="315.5" y2="442.5" stroke="#e7e7e7" stroke-width="0.5"/>
<line x1="337.88" x2="337.88" y1="315.5" y2="442.5" stroke="#e7e7e7" stroke-width="0.5"/>
<line x1="363.62" x2="363.62" y1="315.5" y2="442.5" stroke="#e7e7e7" stroke-width="0.5"/>
<line x1="280.70" x2="374.30" y1="338.7" y2="338.7" stroke="#1b9e77" stroke-width="1.6" opacity="0.75"/>
<line x1="280.70" x2="280.70" y1="334.9" y2="342.5" stroke="#1b9e77" stroke-width="1.6" opacity="0.75"/>
<line x1="374.30" x2="374.30" y1="334.9" y2="342.5" stroke="#1b9e77" stroke-width="1.6" opacity="0.75"/>
<circle cx="327.30" cy="338.7" r="4.0" fill="#1b9e77"/>
<line x1="263.30" x2="364.60" y1="378.9" y2="378.9" stroke="#1b9e77" stroke-width="1.6" opacity="0.75"/>
<line x1="263.30" x2="263.30" y1="375.09999999999997" y2="382.7" stroke="#1b9e77" stroke-width="1.6" opacity="0.75"/>
<line x1="364.60" x2="364.60" y1="375.09999999999997" y2="382.7" stroke="#1b9e77" stroke-width="1.6" opacity="0.75"/>
<circle cx="313.90" cy="378.9" r="4.0" fill="#1b9e77"/>
<line x1="280.70" x2="340.60" y1="418.7" y2="418.7" stroke="#1b9e77" stroke-width="1.6" opacity="0.75"/>
<line x1="280.70" x2="280.70" y1="414.9" y2="422.5" stroke="#1b9e77" stroke-width="1.6" opacity="0.75"/>
<line x1="340.60" x2="340.60" y1="414.9" y2="422.5" stroke="#1b9e77" stroke-width="1.6" opacity="0.75"/>
<circle cx="310.90" cy="418.7" r="4.0" fill="#1b9e77"/>
<rect x="258.0" y="315.5" width="121.70" height="127.00" fill="none" stroke="#777777" stroke-width="1.05"/>
<line x1="254.7" x2="258.0" y1="338.70" y2="338.70" stroke="#333" stroke-width="1.2"/>
<text transform="translate(252.00,342.00) scale(1.0,1)" font-size="10.4" text-anchor="end" fill="#333333">sand/gravel</text>
<line x1="254.7" x2="258.0" y1="378.90" y2="378.90" stroke="#333" stroke-width="1.2"/>
<text transform="translate(252.00,382.20) scale(1.0,1)" font-size="10.4" text-anchor="end" fill="#333333">mixed</text>
<line x1="254.7" x2="258.0" y1="418.70" y2="418.70" stroke="#333" stroke-width="1.2"/>
<text transform="translate(252.00,422.00) scale(1.0,1)" font-size="10.4" text-anchor="end" fill="#333333">sand</text>
<line x1="273.50" x2="273.50" y1="442.5" y2="445.7" stroke="#333" stroke-width="1"/>
<line x1="299.25" x2="299.25" y1="442.5" y2="445.7" stroke="#333" stroke-width="1"/>
<line x1="325.00" x2="325.00" y1="442.5" y2="445.7" stroke="#333" stroke-width="1"/>
<line x1="350.75" x2="350.75" y1="442.5" y2="445.7" stroke="#333" stroke-width="1"/>
<line x1="376.50" x2="376.50" y1="442.5" y2="445.7" stroke="#333" stroke-width="1"/>
<text transform="translate(273.70,455.7) scale(1.0,1)" font-size="10.4" text-anchor="middle" fill="#333333">0.00</text>
<text transform="translate(296.90,455.7) scale(1.0,1)" font-size="10.4" text-anchor="middle" fill="#333333">0.05</text>
<text transform="translate(324.30,455.7) scale(1.0,1)" font-size="10.4" text-anchor="middle" fill="#333333">0.10</text>
<text transform="translate(348.40,455.7) scale(1.0,1)" font-size="10.4" text-anchor="middle" fill="#333333">0.15</text>
<text transform="translate(372.20,455.7) scale(1.0,1)" font-size="10.4" text-anchor="middle" fill="#333333">0.20</text>
<text x="319.3" y="468.6" font-size="10.9" text-anchor="middle" fill="#000">Estimated Effect (log scale)</text>
<line x1="424.7" x2="545.4" y1="425.70" y2="425.70" stroke="#e7e7e7" stroke-width="1.0"/>
<line x1="424.7" x2="545.4" y1="394.60" y2="394.60" stroke="#e7e7e7" stroke-width="1.0"/>
<line x1="424.7" x2="545.4" y1="363.50" y2="363.50" stroke="#e7e7e7" stroke-width="1.0"/>
<line x1="424.7" x2="545.4" y1="332.40" y2="332.40" stroke="#e7e7e7" stroke-width="1.0"/>
<line x1="424.7" x2="545.4" y1="441.25" y2="441.25" stroke="#e7e7e7" stroke-width="0.5"/>
<line x1="424.7" x2="545.4" y1="410.15" y2="410.15" stroke="#e7e7e7" stroke-width="0.5"/>
<line x1="424.7" x2="545.4" y1="379.05" y2="379.05" stroke="#e7e7e7" stroke-width="0.5"/>
<line x1="424.7" x2="545.4" y1="347.95" y2="347.95" stroke="#e7e7e7" stroke-width="0.5"/>
<line x1="424.7" x2="545.4" y1="316.85" y2="316.85" stroke="#e7e7e7" stroke-width="0.5"/>
<line x1="429.70" x2="429.70" y1="315.5" y2="442.5" stroke="#e7e7e7" stroke-width="1.0"/>
<line x1="454.97" x2="454.97" y1="315.5" y2="442.5" stroke="#e7e7e7" stroke-width="1.0"/>
<line x1="480.24" x2="480.24" y1="315.5" y2="442.5" stroke="#e7e7e7" stroke-width="1.0"/>
<line x1="505.51" x2="505.51" y1="315.5" y2="442.5" stroke="#e7e7e7" stroke-width="1.0"/>
<line x1="530.78" x2="530.78" y1="315.5" y2="442.5" stroke="#e7e7e7" stroke-width="1.0"/>
<line x1="442.33" x2="442.33" y1="315.5" y2="442.5" stroke="#e7e7e7" stroke-width="0.5"/>
<line x1="467.60" x2="467.60" y1="315.5" y2="442.5" stroke="#e7e7e7" stroke-width="0.5"/>
<line x1="492.88" x2="492.88" y1="315.5" y2="442.5" stroke="#e7e7e7" stroke-width="0.5"/>
<line x1="518.14" x2="518.14" y1="315.5" y2="442.5" stroke="#e7e7e7" stroke-width="0.5"/>
<line x1="543.41" x2="543.41" y1="315.5" y2="442.5" stroke="#e7e7e7" stroke-width="0.5"/>
<path d="M429.30,356.62 C429.57,356.74 430.38,357.16 430.91,357.33 C431.45,357.50 431.99,357.59 432.53,357.64 C433.06,357.69 433.60,357.67 434.14,357.61 C434.68,357.55 435.21,357.43 435.75,357.28 C436.29,357.13 436.83,356.93 437.37,356.71 C437.90,356.49 438.44,356.22 438.98,355.94 C439.52,355.66 440.05,355.34 440.59,355.02 C441.13,354.69 441.67,354.34 442.20,353.99 C442.74,353.64 443.28,353.28 443.82,352.92 C444.36,352.56 444.89,352.19 445.43,351.83 C445.97,351.47 446.51,351.11 447.04,350.76 C447.58,350.40 448.12,350.05 448.66,349.71 C449.19,349.36 449.73,349.02 450.27,348.69 C450.81,348.36 451.34,348.03 451.88,347.72 C452.42,347.41 452.96,347.11 453.50,346.82 C454.03,346.53 454.57,346.24 455.11,345.98 C455.65,345.72 456.18,345.47 456.72,345.23 C457.26,345.00 457.80,344.78 458.33,344.58 C458.87,344.38 459.41,344.20 459.95,344.03 C460.49,343.87 461.02,343.72 461.56,343.59 C462.10,343.46 462.64,343.34 463.17,343.24 C463.71,343.14 464.25,343.06 464.79,342.98 C465.32,342.91 465.86,342.86 466.40,342.81 C466.94,342.77 467.48,342.73 468.01,342.71 C468.55,342.69 469.09,342.69 469.63,342.69 C470.16,342.69 470.70,342.71 471.24,342.73 C471.78,342.76 472.31,342.79 472.85,342.84 C473.39,342.88 473.93,342.93 474.47,342.99 C475.00,343.05 475.54,343.12 476.08,343.20 C476.62,343.27 477.15,343.36 477.69,343.45 C478.23,343.53 478.77,343.63 479.30,343.73 C479.84,343.83 480.38,343.93 480.92,344.04 C481.46,344.15 481.99,344.26 482.53,344.38 C483.07,344.50 483.61,344.62 484.14,344.75 C484.68,344.89 485.22,345.03 485.76,345.19 C486.29,345.35 486.83,345.52 487.37,345.71 C487.91,345.91 488.44,346.12 488.98,346.36 C489.52,346.59 490.06,346.84 490.60,347.10 C491.13,347.36 491.67,347.64 492.21,347.92 C492.75,348.20 493.28,348.49 493.82,348.79 C494.36,349.08 494.90,349.38 495.43,349.68 C495.97,349.97 496.51,350.27 497.05,350.57 C497.59,350.86 498.12,351.15 498.66,351.43 C499.20,351.71 499.74,351.98 500.27,352.24 C500.81,352.49 501.35,352.74 501.89,352.97 C502.42,353.20 502.96,353.41 503.50,353.60 C504.04,353.79 504.58,353.97 505.11,354.12 C505.65,354.28 506.19,354.42 506.73,354.54 C507.26,354.66 507.80,354.77 508.34,354.85 C508.88,354.94 509.41,355.01 509.95,355.06 C510.49,355.11 511.03,355.15 511.57,355.17 C512.10,355.18 512.64,355.18 513.18,355.17 C513.72,355.15 514.25,355.12 514.79,355.06 C515.33,355.01 515.87,354.95 516.40,354.86 C516.94,354.78 517.48,354.67 518.02,354.56 C518.56,354.44 519.09,354.31 519.63,354.15 C520.17,353.99 520.71,353.81 521.24,353.60 C521.78,353.40 522.32,353.16 522.86,352.89 C523.39,352.61 523.93,352.31 524.47,351.95 C525.01,351.60 525.54,351.20 526.08,350.75 C526.62,350.30 527.16,349.81 527.70,349.25 C528.23,348.69 528.77,348.08 529.31,347.40 C529.85,346.72 530.38,345.98 530.92,345.16 C531.46,344.34 532.00,343.46 532.53,342.49 C533.07,341.52 533.61,340.48 534.15,339.34 C534.69,338.21 535.22,336.99 535.76,335.68 C536.30,334.36 536.84,332.96 537.37,331.45 C537.91,329.94 538.45,328.34 538.99,326.62 C539.52,324.90 540.33,322.05 540.60,321.14 L540.60,372.59 C540.33,372.66 539.52,372.84 538.99,373.00 C538.45,373.16 537.91,373.34 537.37,373.53 C536.84,373.72 536.30,373.94 535.76,374.16 C535.22,374.39 534.69,374.63 534.15,374.88 C533.61,375.13 533.07,375.40 532.53,375.67 C532.00,375.94 531.46,376.23 530.92,376.51 C530.38,376.80 529.85,377.10 529.31,377.39 C528.77,377.69 528.23,377.99 527.70,378.29 C527.16,378.60 526.62,378.90 526.08,379.20 C525.54,379.50 525.01,379.80 524.47,380.10 C523.93,380.39 523.39,380.68 522.86,380.96 C522.32,381.24 521.78,381.52 521.24,381.79 C520.71,382.05 520.17,382.31 519.63,382.55 C519.09,382.79 518.56,383.02 518.02,383.24 C517.48,383.45 516.94,383.65 516.40,383.83 C515.87,384.01 515.33,384.18 514.79,384.32 C514.25,384.46 513.72,384.58 513.18,384.68 C512.64,384.77 512.10,384.85 511.57,384.90 C511.03,384.94 510.49,384.97 509.95,384.96 C509.41,384.95 508.88,384.91 508.34,384.85 C507.80,384.78 507.26,384.69 506.73,384.57 C506.19,384.46 505.65,384.31 505.11,384.15 C504.58,383.99 504.04,383.80 503.50,383.60 C502.96,383.39 502.42,383.17 501.89,382.93 C501.35,382.69 500.81,382.43 500.27,382.16 C499.74,381.89 499.20,381.60 498.66,381.30 C498.12,381.01 497.59,380.70 497.05,380.39 C496.51,380.07 495.97,379.74 495.43,379.42 C494.90,379.09 494.36,378.75 493.82,378.41 C493.28,378.07 492.75,377.73 492.21,377.39 C491.67,377.05 491.13,376.71 490.60,376.38 C490.06,376.04 489.52,375.71 488.98,375.39 C488.44,375.07 487.91,374.75 487.37,374.45 C486.83,374.14 486.29,373.85 485.76,373.57 C485.22,373.29 484.68,373.02 484.14,372.77 C483.61,372.53 483.07,372.30 482.53,372.09 C481.99,371.88 481.46,371.69 480.92,371.53 C480.38,371.37 479.84,371.22 479.30,371.11 C478.77,371.00 478.23,370.92 477.69,370.87 C477.15,370.81 476.62,370.79 476.08,370.80 C475.54,370.81 475.00,370.85 474.47,370.91 C473.93,370.98 473.39,371.07 472.85,371.20 C472.31,371.32 471.78,371.47 471.24,371.65 C470.70,371.83 470.16,372.04 469.63,372.27 C469.09,372.50 468.55,372.77 468.01,373.05 C467.48,373.34 466.94,373.65 466.40,373.99 C465.86,374.33 465.32,374.69 464.79,375.08 C464.25,375.47 463.71,375.88 463.17,376.32 C462.64,376.76 462.10,377.22 461.56,377.71 C461.02,378.19 460.49,378.70 459.95,379.23 C459.41,379.76 458.87,380.32 458.33,380.89 C457.80,381.47 457.26,382.07 456.72,382.69 C456.18,383.30 455.65,383.95 455.11,384.61 C454.57,385.27 454.03,385.95 453.50,386.65 C452.96,387.35 452.42,388.07 451.88,388.81 C451.34,389.55 450.81,390.32 450.27,391.09 C449.73,391.87 449.19,392.67 448.66,393.48 C448.12,394.30 447.58,395.13 447.04,395.98 C446.51,396.83 445.97,397.70 445.43,398.60 C444.89,399.50 444.36,400.41 443.82,401.36 C443.28,402.31 442.74,403.28 442.20,404.28 C441.67,405.29 441.13,406.32 440.59,407.38 C440.05,408.45 439.52,409.54 438.98,410.67 C438.44,411.80 437.90,412.97 437.37,414.17 C436.83,415.37 436.29,416.61 435.75,417.89 C435.21,419.17 434.68,420.48 434.14,421.84 C433.60,423.20 433.06,424.60 432.53,426.05 C431.99,427.50 431.45,428.99 430.91,430.53 C430.38,432.07 429.57,434.50 429.30,435.30 Z" fill="#999" fill-opacity="0.5"/>
<path d="M429.30,396.48 C429.57,396.10 430.38,394.97 430.91,394.22 C431.45,393.46 431.99,392.71 432.53,391.96 C433.06,391.21 433.60,390.46 434.14,389.71 C434.68,388.96 435.21,388.22 435.75,387.48 C436.29,386.74 436.83,386.00 437.37,385.27 C437.90,384.54 438.44,383.81 438.98,383.09 C439.52,382.38 440.05,381.66 440.59,380.96 C441.13,380.25 441.67,379.56 442.20,378.87 C442.74,378.18 443.28,377.50 443.82,376.84 C444.36,376.17 444.89,375.51 445.43,374.86 C445.97,374.22 446.51,373.58 447.04,372.96 C447.58,372.34 448.12,371.73 448.66,371.13 C449.19,370.53 449.73,369.95 450.27,369.39 C450.81,368.82 451.34,368.27 451.88,367.73 C452.42,367.20 452.96,366.68 453.50,366.18 C454.03,365.67 454.57,365.19 455.11,364.73 C455.65,364.26 456.18,363.81 456.72,363.39 C457.26,362.96 457.80,362.56 458.33,362.17 C458.87,361.78 459.41,361.42 459.95,361.07 C460.49,360.73 461.02,360.40 461.56,360.10 C462.10,359.79 462.64,359.51 463.17,359.24 C463.71,358.97 464.25,358.73 464.79,358.50 C465.32,358.27 465.86,358.06 466.40,357.87 C466.94,357.68 467.48,357.51 468.01,357.36 C468.55,357.20 469.09,357.07 469.63,356.95 C470.16,356.84 470.70,356.74 471.24,356.66 C471.78,356.58 472.31,356.52 472.85,356.48 C473.39,356.44 473.93,356.42 474.47,356.42 C475.00,356.41 475.54,356.43 476.08,356.47 C476.62,356.51 477.15,356.56 477.69,356.64 C478.23,356.72 478.77,356.82 479.30,356.93 C479.84,357.05 480.38,357.18 480.92,357.33 C481.46,357.48 481.99,357.65 482.53,357.84 C483.07,358.02 483.61,358.22 484.14,358.44 C484.68,358.66 485.22,358.89 485.76,359.13 C486.29,359.38 486.83,359.64 487.37,359.91 C487.91,360.18 488.44,360.47 488.98,360.76 C489.52,361.06 490.06,361.36 490.60,361.67 C491.13,361.98 491.67,362.30 492.21,362.62 C492.75,362.93 493.28,363.26 493.82,363.57 C494.36,363.89 494.90,364.22 495.43,364.53 C495.97,364.84 496.51,365.16 497.05,365.46 C497.59,365.77 498.12,366.07 498.66,366.36 C499.20,366.65 499.74,366.93 500.27,367.20 C500.81,367.47 501.35,367.74 501.89,367.98 C502.42,368.23 502.96,368.47 503.50,368.69 C504.04,368.91 504.58,369.12 505.11,369.30 C505.65,369.49 506.19,369.67 506.73,369.82 C507.26,369.97 507.80,370.10 508.34,370.21 C508.88,370.32 509.41,370.41 509.95,370.48 C510.49,370.54 511.03,370.58 511.57,370.60 C512.10,370.61 512.64,370.60 513.18,370.56 C513.72,370.52 514.25,370.45 514.79,370.35 C515.33,370.26 515.87,370.13 516.40,369.97 C516.94,369.82 517.48,369.63 518.02,369.42 C518.56,369.21 519.09,368.97 519.63,368.70 C520.17,368.44 520.71,368.15 521.24,367.83 C521.78,367.51 522.32,367.17 522.86,366.80 C523.39,366.43 523.93,366.03 524.47,365.62 C525.01,365.20 525.54,364.76 526.08,364.29 C526.62,363.83 527.16,363.34 527.70,362.83 C528.23,362.32 528.77,361.78 529.31,361.23 C529.85,360.67 530.38,360.10 530.92,359.50 C531.46,358.90 532.00,358.28 532.53,357.64 C533.07,357.01 533.61,356.35 534.15,355.67 C534.69,355.00 535.22,354.30 535.76,353.58 C536.30,352.87 536.84,352.14 537.37,351.39 C537.91,350.64 538.45,349.87 538.99,349.09 C539.52,348.30 540.33,347.09 540.60,346.69" fill="none" stroke="#111" stroke-width="1.25"/>
<line x1="429.6" x2="429.6" y1="438.7" y2="442.5" stroke="#111" stroke-width="1.3" opacity="1"/>
<line x1="447.2" x2="447.2" y1="438.7" y2="442.5" stroke="#111" stroke-width="1.3" opacity="1"/>
<line x1="457.3" x2="457.3" y1="438.7" y2="442.5" stroke="#111" stroke-width="1.3" opacity="0.4"/>
<line x1="470.3" x2="470.3" y1="438.7" y2="442.5" stroke="#111" stroke-width="1.3" opacity="1"/>
<line x1="481.9" x2="481.9" y1="438.7" y2="442.5" stroke="#111" stroke-width="1.3" opacity="0.4"/>
<line x1="487.8" x2="487.8" y1="438.7" y2="442.5" stroke="#111" stroke-width="1.3" opacity="1"/>
<line x1="498.0" x2="498.0" y1="438.7" y2="442.5" stroke="#111" stroke-width="1.3" opacity="0.4"/>
<line x1="505.4" x2="505.4" y1="438.7" y2="442.5" stroke="#111" stroke-width="1.3" opacity="1"/>
<line x1="511.0" x2="511.0" y1="438.7" y2="442.5" stroke="#111" stroke-width="1.3" opacity="0.65"/>
<line x1="515.4" x2="515.4" y1="438.7" y2="442.5" stroke="#111" stroke-width="1.3" opacity="1"/>
<line x1="523.0" x2="523.0" y1="438.7" y2="442.5" stroke="#111" stroke-width="1.3" opacity="0.65"/>
<line x1="528.5" x2="528.5" y1="438.7" y2="442.5" stroke="#111" stroke-width="1.3" opacity="1"/>
<line x1="533.1" x2="533.1" y1="438.7" y2="442.5" stroke="#111" stroke-width="1.3" opacity="1"/>
<line x1="540.6" x2="540.6" y1="438.7" y2="442.5" stroke="#111" stroke-width="1.3" opacity="1"/>
<rect x="424.7" y="315.5" width="120.70" height="127.00" fill="none" stroke="#777777" stroke-width="1.05"/>
<line x1="421.4" x2="424.7" y1="332.40" y2="332.40" stroke="#333" stroke-width="1.2"/>
<text transform="translate(418.50,335.70) scale(0.85,1)" font-size="10.3" text-anchor="end" fill="#333333">0.1</text>
<line x1="421.4" x2="424.7" y1="363.50" y2="363.50" stroke="#333" stroke-width="1.2"/>
<text transform="translate(418.50,366.80) scale(0.85,1)" font-size="10.3" text-anchor="end" fill="#333333">0.0</text>
<line x1="421.4" x2="424.7" y1="394.60" y2="394.60" stroke="#333" stroke-width="1.2"/>
<text transform="translate(418.50,397.90) scale(0.85,1)" font-size="10.3" text-anchor="end" fill="#333333">−0.1</text>
<line x1="421.4" x2="424.7" y1="425.70" y2="425.70" stroke="#333" stroke-width="1.2"/>
<text transform="translate(418.50,429.00) scale(0.85,1)" font-size="10.3" text-anchor="end" fill="#333333">−0.2</text>
<line x1="429.70" x2="429.70" y1="442.5" y2="445.7" stroke="#333" stroke-width="1"/>
<line x1="454.97" x2="454.97" y1="442.5" y2="445.7" stroke="#333" stroke-width="1"/>
<line x1="480.24" x2="480.24" y1="442.5" y2="445.7" stroke="#333" stroke-width="1"/>
<line x1="505.51" x2="505.51" y1="442.5" y2="445.7" stroke="#333" stroke-width="1"/>
<line x1="530.78" x2="530.78" y1="442.5" y2="445.7" stroke="#333" stroke-width="1"/>
<text transform="translate(429.70,453.7) scale(0.85,1)" font-size="9.2" text-anchor="middle" fill="#333333">0</text>
<text transform="translate(454.97,453.7) scale(0.85,1)" font-size="9.2" text-anchor="middle" fill="#333333">1</text>
<text transform="translate(480.24,453.7) scale(0.85,1)" font-size="9.2" text-anchor="middle" fill="#333333">2</text>
<text transform="translate(505.51,453.7) scale(0.85,1)" font-size="9.2" text-anchor="middle" fill="#333333">3</text>
<text transform="translate(530.78,453.7) scale(0.85,1)" font-size="9.2" text-anchor="middle" fill="#333333">4</text>
<text x="485.2" y="469.6" font-size="10.9" text-anchor="middle" fill="#000">log(Macrophyte.cover)</text>
<text transform="translate(401.2,378.4) rotate(-90)" font-size="10.7" text-anchor="middle" fill="#000" stroke="#000" stroke-width="0.08">Partial effect</text>
<line x1="598.8" x2="702.2" y1="338.70" y2="338.70" stroke="#e7e7e7" stroke-width="1.0"/>
<line x1="598.8" x2="702.2" y1="378.90" y2="378.90" stroke="#e7e7e7" stroke-width="1.0"/>
<line x1="598.8" x2="702.2" y1="418.70" y2="418.70" stroke="#e7e7e7" stroke-width="1.0"/>
<line x1="613.70" x2="613.70" y1="315.5" y2="442.5" stroke="#e7e7e7" stroke-width="1.0"/>
<line x1="642.40" x2="642.40" y1="315.5" y2="442.5" stroke="#e7e7e7" stroke-width="1.0"/>
<line x1="671.10" x2="671.10" y1="315.5" y2="442.5" stroke="#e7e7e7" stroke-width="1.0"/>
<line x1="699.80" x2="699.80" y1="315.5" y2="442.5" stroke="#e7e7e7" stroke-width="1.0"/>
<line x1="599.35" x2="599.35" y1="315.5" y2="442.5" stroke="#e7e7e7" stroke-width="0.5"/>
<line x1="628.05" x2="628.05" y1="315.5" y2="442.5" stroke="#e7e7e7" stroke-width="0.5"/>
<line x1="656.75" x2="656.75" y1="315.5" y2="442.5" stroke="#e7e7e7" stroke-width="0.5"/>
<line x1="685.45" x2="685.45" y1="315.5" y2="442.5" stroke="#e7e7e7" stroke-width="0.5"/>
<line x1="642.4" x2="642.4" y1="315.5" y2="442.5" stroke="#555" stroke-width="1.3" stroke-dasharray="3.8 4.7" stroke-dashoffset="-3.6"/>
<circle cx="697.2" cy="338.7" r="3.15" fill="#70b2ea"/>
<circle cx="627.6" cy="378.9" r="3.15" fill="#70b2ea"/>
<circle cx="603.4" cy="418.7" r="3.15" fill="#70b2ea"/>
<rect x="598.8" y="315.5" width="103.40" height="127.00" fill="none" stroke="#777777" stroke-width="1.05"/>
<line x1="595.5" x2="598.8" y1="338.70" y2="338.70" stroke="#333" stroke-width="1.2"/>
<text transform="translate(593.80,342.00) scale(1.0,1)" font-size="10.9" text-anchor="end" fill="#333333">upper</text>
<line x1="595.5" x2="598.8" y1="378.90" y2="378.90" stroke="#333" stroke-width="1.2"/>
<text transform="translate(593.80,382.20) scale(1.0,1)" font-size="10.9" text-anchor="end" fill="#333333">middle</text>
<line x1="595.5" x2="598.8" y1="418.70" y2="418.70" stroke="#333" stroke-width="1.2"/>
<text transform="translate(593.80,422.00) scale(1.0,1)" font-size="10.9" text-anchor="end" fill="#333333">lower</text>
<line x1="613.70" x2="613.70" y1="442.5" y2="445.7" stroke="#333" stroke-width="1"/>
<line x1="642.40" x2="642.40" y1="442.5" y2="445.7" stroke="#333" stroke-width="1"/>
<line x1="671.10" x2="671.10" y1="442.5" y2="445.7" stroke="#333" stroke-width="1"/>
<line x1="699.80" x2="699.80" y1="442.5" y2="445.7" stroke="#333" stroke-width="1"/>
<text transform="translate(609.10,454.8) scale(1.0,1)" font-size="10.4" text-anchor="middle" fill="#333333">−0.004</text>
<text transform="translate(638.00,454.8) scale(1.0,1)" font-size="10.4" text-anchor="middle" fill="#333333">0.000</text>
<text transform="translate(666.70,454.8) scale(1.0,1)" font-size="10.4" text-anchor="middle" fill="#333333">0.004</text>
<text transform="translate(694.60,454.8) scale(1.0,1)" font-size="10.4" text-anchor="middle" fill="#333333">0.008</text>
<text x="650.3" y="470.3" font-size="10.7" text-anchor="middle" fill="#000">Random Effect (Intercept)</text>
<text transform="translate(559.2,378.5) rotate(-90)" font-size="10.7" text-anchor="middle" fill="#000" stroke="#000" stroke-width="0.08">Reach</text>
</svg>
</body></html>
